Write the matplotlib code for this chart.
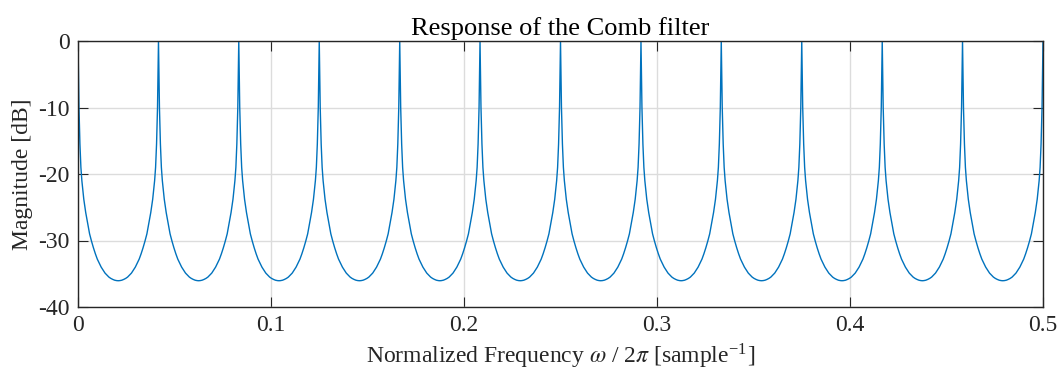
import numpy as np
import matplotlib
matplotlib.use('Agg')
import matplotlib.pyplot as plt

plt.rcParams['font.family'] = ['Liberation Serif', 'DejaVu Serif']
plt.rcParams['mathtext.fontset'] = 'stix'
plt.rcParams['axes.unicode_minus'] = False

# peak positions (normalized frequency)
peaks = [0, 0.0417, 0.0833, 0.125, 0.1667, 0.2083, 0.25, 0.2917,
         0.3333, 0.375, 0.4167, 0.4583, 0.5]
# one half of a lobe: distance from a peak and magnitude there [dB]
half_offset = [0, 0.00025, 0.0005, 0.001, 0.0015, 0.002, 0.003, 0.004,
               0.005, 0.006, 0.007, 0.008, 0.009, 0.010, 0.011, 0.012,
               0.013, 0.014, 0.015, 0.016, 0.017, 0.018, 0.019, 0.020]
half_db = [0, -5, -10, -15.5, -19, -21, -23.8, -25.8,
           -27.4, -29, -30.1, -31.1, -32.0, -32.8, -33.4, -34,
           -34.45, -34.9, -35.2, -35.5, -35.7, -35.85, -35.97, -36.03]
min_db = -36.05

xticks = [0, 0.1, 0.2, 0.3, 0.4, 0.5]
xticklabels = ['0', '0.1', '0.2', '0.3', '0.4', '0.5']
yticks = [-40, -30, -20, -10, 0]
yticklabels = ['-40', '-30', '-20', '-10', '0']

xs, ys = [], []
for p0, p1 in zip(peaks[:-1], peaks[1:]):
    mid = (p0 + p1) / 2
    xs += [p0 + d for d in half_offset] + [mid] + [p1 - d for d in half_offset[::-1]]
    ys += half_db + [min_db] + half_db[::-1]

fig = plt.figure(figsize=(10.6, 3.8), dpi=100)
ax = fig.add_axes([78 / 1060, 1 - 307 / 380, (1043 - 78) / 1060, (307 - 41) / 380])
ax.plot(xs, ys, color='#0072BD', lw=1.0)

ax.set_xlim(0, 0.5)
ax.set_ylim(-40, 0)
ax.set_xticks(xticks)
ax.set_xticklabels(xticklabels)
ax.set_yticks(yticks)
ax.set_yticklabels(yticklabels)
ax.grid(True, color='#dcdcdc', lw=1.0)
ax.set_axisbelow(True)
ax.tick_params(direction='in', length=7, width=0.8, colors='#262626',
               labelsize=17, top=True, right=True, pad=6)
for s in ax.spines.values():
    s.set_color('#262626')
    s.set_linewidth(1.0)

ax.set_title('Response of the Comb filter', fontsize=19, pad=4)
ax.set_xlabel(r'Normalized Frequency $\omega$ / 2$\pi$ [sample$^{\mathregular{-1}}$]', fontsize=17, color='#262626')
ax.set_ylabel('Magnitude [dB]', fontsize=17, color='#262626')

fig.savefig('out.png', dpi=100)
